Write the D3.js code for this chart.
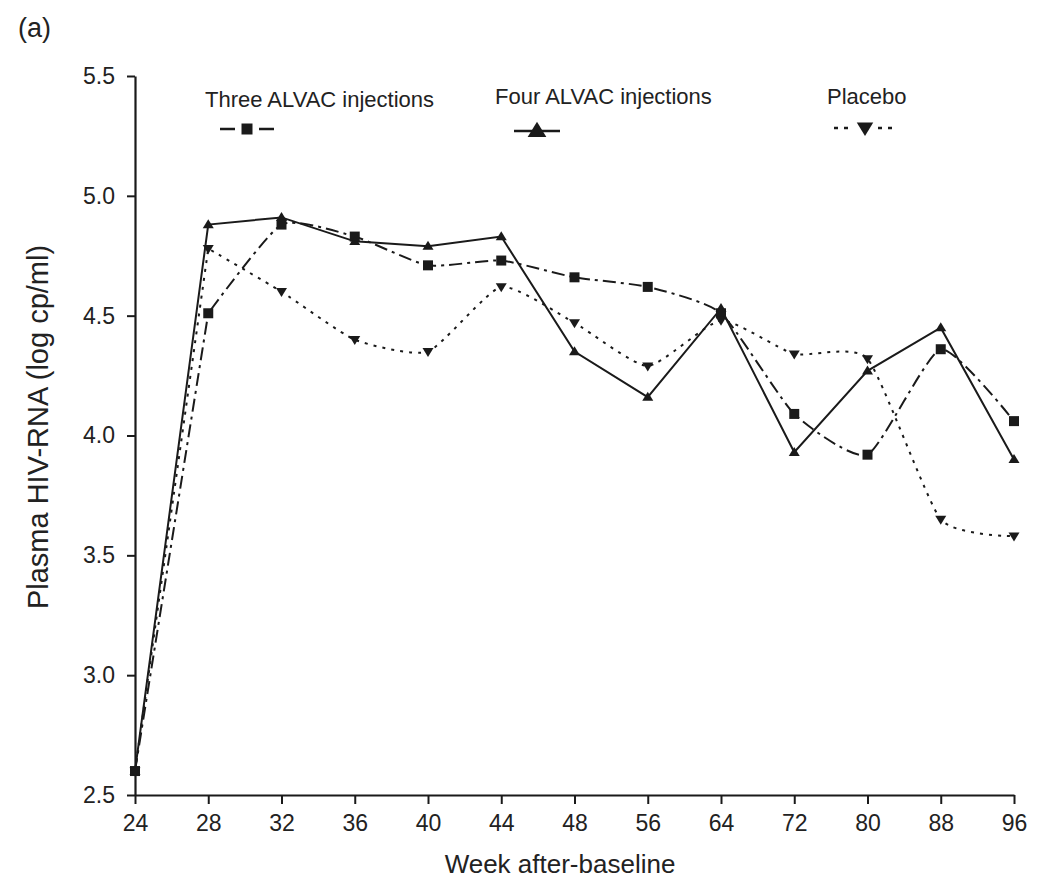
<!DOCTYPE html>
<html>
<head>
<meta charset="utf-8">
<script src="https://cdn.jsdelivr.net/npm/d3@7"></script>
<style>
  html, body { margin: 0; padding: 0; background: #fff; }
  svg { display: block; font-family: "Liberation Sans", Arial, sans-serif; }
</style>
</head>
<body>
<svg id="chart" width="1040" height="888"></svg>
<script>
// ---- data ----
const weeks = ["24","28","32","36","40","44","48","56","64","72","80","88","96"];
const threeAlvac = [2.6, 4.51, 4.88, 4.83, 4.71, 4.73, 4.66, 4.62, 4.51, 4.09, 3.92, 4.36, 4.06];
const fourAlvac  = [2.6, 4.88, 4.91, 4.81, 4.79, 4.83, 4.35, 4.16, 4.53, 3.93, 4.27, 4.45, 3.90];
const placebo    = [2.6, 4.78, 4.60, 4.40, 4.35, 4.62, 4.47, 4.29, 4.48, 4.34, 4.32, 3.65, 3.58];
const yTicks = [2.5, 3.0, 3.5, 4.0, 4.5, 5.0, 5.5];
const seriesNames = ["Three ALVAC injections", "Four ALVAC injections", "Placebo"];

const svg = d3.select("#chart");
const ink = "#1a1a1a";

const x = d3.scalePoint().domain(weeks).range([135, 1014]);
const y = d3.scaleLinear().domain([2.5, 5.5]).range([795, 76]);

// axes
const xAxis = svg.append("g").attr("transform", "translate(0,795)")
  .call(d3.axisBottom(x).tickSize(9).tickSizeOuter(0).tickPadding(10));
const yAxis = svg.append("g").attr("transform", "translate(135,0)")
  .call(d3.axisLeft(y).tickValues(yTicks).tickFormat(d3.format(".1f")).tickSize(8).tickSizeOuter(0).tickPadding(12));
[xAxis, yAxis].forEach(g => {
  g.selectAll("path.domain").attr("stroke", ink).attr("stroke-width", 2.2);
  g.selectAll(".tick line").attr("stroke", ink).attr("stroke-width", 2);
  g.selectAll(".tick text").attr("fill", "#222").style("font-size", "23px")
    .style("font-family", "'Liberation Sans', Arial, sans-serif");
});
xAxis.selectAll(".tick text").attr("dy", "0.75em");

// axis titles
svg.append("text").attr("x", 560).attr("y", 873).attr("text-anchor", "middle")
  .attr("fill", "#222").style("font-size", "26px").text("Week after-baseline");
svg.append("text").attr("transform", "translate(48,427) rotate(-90)").attr("text-anchor", "middle")
  .attr("fill", "#222").style("font-size", "29px").text("Plasma HIV-RNA (log cp/ml)");
svg.append("text").attr("x", 18).attr("y", 37).attr("fill", "#222").style("font-size", "27px").text("(a)");

// series definitions
const series = [
  { name: seriesNames[0], values: threeAlvac, dash: "13,5,3,5", smooth: true,  marker: "square" },
  { name: seriesNames[1], values: fourAlvac,  dash: null,       smooth: false, marker: "triangle" },
  { name: seriesNames[2], values: placebo,    dash: "3,6",      smooth: true,  marker: "down" }
];

function markerPath(type, s) {
  if (type === "square") return d3.symbol(d3.symbolSquare, s * s)();
  const h = s * 0.9, w = s * 1.1;
  if (type === "triangle") return `M0,${-h*0.6}L${w/2},${h*0.4}L${-w/2},${h*0.4}Z`;
  return `M0,${h*0.6}L${w/2},${-h*0.4}L${-w/2},${-h*0.4}Z`;
}

const line = d3.line().x(d => x(d.w)).y(d => y(d.v));

series.forEach(s => {
  const pts = s.values.map((v, i) => ({ w: weeks[i], v }));
  let d;
  if (s.smooth) {
    const first = line.curve(d3.curveLinear)(pts.slice(0, 2));
    const rest = line.curve(d3.curveCardinal.tension(0.45))(pts.slice(1)).replace(/^M/, "L");
    d = first + rest;
  } else {
    d = line.curve(d3.curveLinear)(pts);
  }
  svg.append("path").attr("d", d)
    .attr("fill", "none").attr("stroke", ink).attr("stroke-width", 2)
    .attr("stroke-dasharray", s.dash);
});
series.forEach(s => {
  svg.append("g").selectAll("path").data(s.values).join("path")
    .attr("transform", (d, i) => `translate(${x(weeks[i])},${y(d)})`)
    .attr("d", markerPath(s.marker, 10))
    .attr("fill", ink);
});

// legend
const legendPos = [
  { tx: 205, ty: 107, mx: 247, my: 129, len: 54 },
  { tx: 495, ty: 104, mx: 537, my: 131, len: 46 },
  { tx: 827, ty: 104, mx: 865, my: 128, len: 62 }
];
series.forEach((s, k) => {
  const p = legendPos[k];
  svg.append("text").attr("x", p.tx).attr("y", p.ty).attr("fill", "#222")
    .style("font-size", "22px").text(s.name);
  svg.append("line").attr("x1", p.mx - p.len / 2).attr("x2", p.mx + p.len / 2)
    .attr("y1", p.my).attr("y2", p.my).attr("stroke", ink).attr("stroke-width", 2.5)
    .attr("stroke-dasharray", k === 0 ? "15,24,15" : (k === 2 ? "4,6,4,30,4,6,4" : null));
  svg.append("path").attr("transform", `translate(${p.mx},${p.my})`)
    .attr("d", markerPath(s.marker, k === 1 ? 17 : (k === 0 ? 11 : 15))).attr("fill", ink);
});
</script>
</body>
</html>
